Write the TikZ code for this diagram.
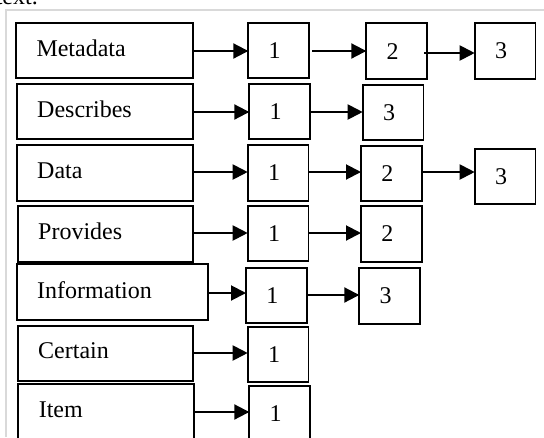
\documentclass[tikz,border=0pt]{standalone}
\usepackage{fontspec}
\setmainfont{Liberation Serif}
\usetikzlibrary{arrows.meta}
\definecolor{framegray}{HTML}{D9D9D9}
\begin{document}
\begin{tikzpicture}[x=1pt,y=-1pt,
  font=\fontsize{24}{28}\selectfont,
  lbox/.style={draw, line width=1.7pt, anchor=north west, outer sep=0pt,
    inner xsep=20.5pt, inner ysep=0pt, align=left, text depth=5pt},
  nbox/.style={draw, line width=1.7pt, anchor=north west, outer sep=0pt,
    inner sep=0pt, minimum width=60.7pt, execute at end node={\hspace*{8pt}}},
  arr/.style={line width=2pt, -{Triangle[length=15pt,width=15pt]}}]
\useasboundingbox (0,0) rectangle (544,437);
% faint frame
\draw[framegray, line width=2pt] (5.5,437) -- (5.5,9.7) -- (544,9.7);
\node[anchor=base east, inner sep=0pt] (cut) at (38,4) {text.};
% left boxes
\node[lbox, minimum width=177pt, text width=136pt, minimum height=55.6pt] (meta) at (16,22.7) {Metadata};
\node[lbox, minimum width=176.3pt, text width=135.3pt, minimum height=55pt] (desc) at (16.7,84.3) {Describes};
\node[lbox, minimum width=176.6pt, text width=135.6pt, minimum height=55.7pt] (data) at (16.7,145) {Data};
\node[lbox, minimum width=175.6pt, text width=134.6pt, minimum height=55.7pt] (prov) at (17.7,206) {Provides};
\node[lbox, minimum width=191.6pt, text width=150.6pt, minimum height=55.7pt] (info) at (16.7,264.3) {Information};
\node[lbox, minimum width=175.6pt, text width=134.6pt, minimum height=54.7pt] (cert) at (17.7,326) {Certain};
\node[lbox, minimum width=175.7pt, text width=134.7pt, minimum height=55.7pt] (item) at (18.3,384.3) {Item};
% first column of numbers
\node[nbox, minimum height=55.6pt] (a1) at (248.3,22.7) {1};
\node[nbox, minimum height=55pt] (a2) at (249.3,84.3) {1};
\node[nbox, minimum height=55.7pt] (a3) at (247.7,145) {1};
\node[nbox, minimum height=55pt] (a4) at (247.7,206) {1};
\node[nbox, minimum height=55.6pt] (a5) at (246,267.7) {1};
\node[nbox, minimum height=55.6pt] (a6) at (247.7,326.7) {1};
\node[nbox, minimum height=55.6pt] (a7) at (249.3,386) {1};
% second column
\node[nbox, minimum height=55.7pt] (b1) at (366.3,23.3) {2};
\node[nbox, minimum height=55pt] (b2) at (362.7,85) {3};
\node[nbox, minimum height=55.3pt] (b3) at (361,145.7) {2};
\node[nbox, minimum height=55.7pt] (b4) at (361,206) {2};
\node[nbox, minimum height=55.7pt] (b5) at (359.3,268.3) {3};
% third column
\node[nbox, minimum height=55.7pt] (c1) at (474.7,23.3) {3};
\node[nbox, minimum height=55pt] (c3) at (474.7,149.3) {3};
% arrows
\draw[arr] (meta.east |- 0,51) -- (a1.west |- 0,51);
\draw[arr] (desc.east |- 0,112) -- (a2.west |- 0,112);
\draw[arr] (data.east |- 0,172) -- (a3.west |- 0,172);
\draw[arr] (prov.east |- 0,233) -- (a4.west |- 0,233);
\draw[arr] (info.east |- 0,293) -- (a5.west |- 0,293);
\draw[arr] (cert.east |- 0,353) -- (a6.west |- 0,353);
\draw[arr] (item.east |- 0,412) -- (a7.west |- 0,412);
\draw[arr] (a1.east |- 0,51) ++(3,0) -- (b1.west |- 0,51);
\draw[arr] (b1.east |- 0,53) ++(-3,0) -- (c1.west |- 0,53);
\draw[arr] (a2.east |- 0,112) -- (b2.west |- 0,112);
\draw[arr] (a3.east |- 0,172) -- (b3.west |- 0,172);
\draw[arr] (b3.east |- 0,172) -- (c3.west |- 0,172);
\draw[arr] (a4.east |- 0,233) -- (b4.west |- 0,233);
\draw[arr] (a5.east |- 0,295) -- (b5.west |- 0,295);
\end{tikzpicture}
\end{document}
